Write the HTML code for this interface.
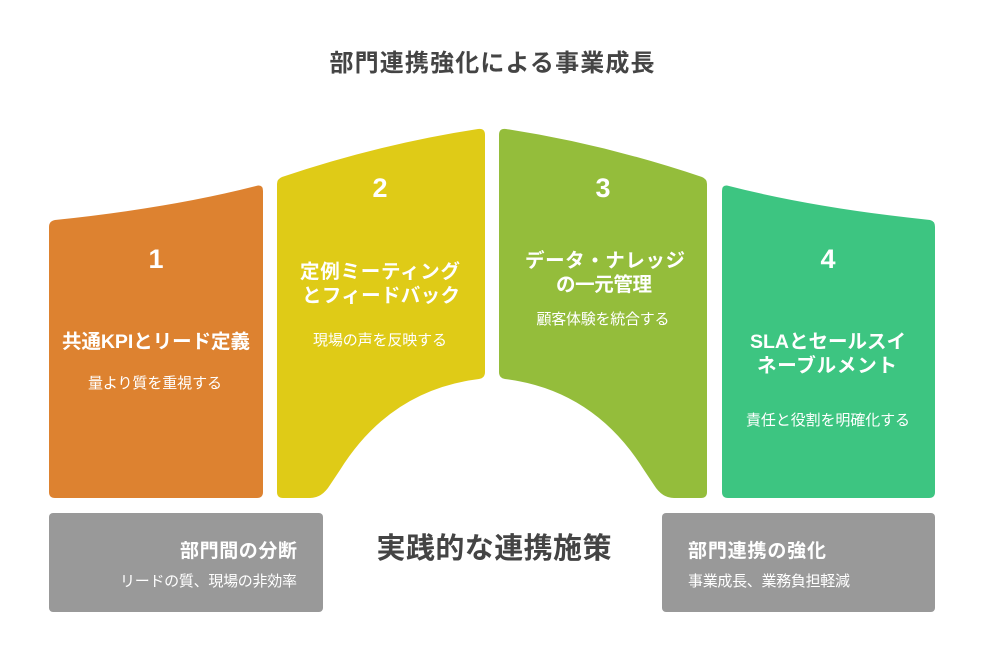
<!DOCTYPE html>
<html><head><meta charset="utf-8"><style>
html,body{margin:0;padding:0;background:#fff;}
svg text{font-family:"Liberation Sans","Noto Sans CJK JP",sans-serif;}
</style></head><body>
<svg width="984" height="660" viewBox="0 0 984 660" xmlns="http://www.w3.org/2000/svg">
<rect width="984" height="660" fill="#fff"/>
<text x="492" y="71" text-anchor="middle" font-size="24" font-weight="bold" fill="#444" textLength="325">部門連携強化による事業成長</text>

<path d="M49,227 Q49,221 55,220 Q170,208 256,186 Q263,184 263,191 L263,492 Q263,498 257,498 L55,498 Q49,498 49,492 Z" fill="#DD8230"/>
<path d="M277,184 Q277,179 282,177 Q380,144 478,129 Q485,128 485,135 L485,372 Q485,378 479,379 Q390,390 340,470 L330,485 Q322,498 310,498 L283,498 Q277,498 277,492 Z" fill="#DFCB17"/>
<path d="M499,135 Q499,128 506,129 Q604,144 702,177 Q707,179 707,184 L707,492 Q707,498 701,498 L674,498 Q662,498 654,485 L644,470 Q594,390 505,379 Q499,378 499,372 Z" fill="#94BD3B"/>
<path d="M722,191 Q722,184 729,186 Q815,208 930,220 Q935,221 935,227 L935,492 Q935,498 929,498 L728,498 Q722,498 722,492 Z" fill="#3DC581"/>

<g fill="#fff" text-anchor="middle">
<text x="156" y="268" font-size="27" font-weight="bold">1</text>
<text x="156" y="348" font-size="19.5" font-weight="bold" textLength="188">共通KPIとリード定義</text>
<text x="155" y="388" font-size="15" textLength="134">量より質を重視する</text>

<text x="380" y="197" font-size="27" font-weight="bold">2</text>
<text x="380" y="278" font-size="19.5" font-weight="bold" textLength="160">定例ミーティング</text>
<text x="381" y="302" font-size="19.5" font-weight="bold" textLength="158">とフィードバック</text>
<text x="380" y="345" font-size="15" textLength="134">現場の声を反映する</text>

<text x="603" y="197" font-size="27" font-weight="bold">3</text>
<text x="605" y="267" font-size="19.5" font-weight="bold" textLength="160">データ・ナレッジ</text>
<text x="604" y="291" font-size="19.5" font-weight="bold" textLength="96">の一元管理</text>
<text x="603" y="324" font-size="15" textLength="133">顧客体験を統合する</text>

<text x="828" y="268" font-size="27" font-weight="bold">4</text>
<text x="828" y="348" font-size="19.5" font-weight="bold" textLength="156">SLAとセールスイ</text>
<text x="827" y="372" font-size="19.5" font-weight="bold" textLength="140">ネーブルメント</text>
<text x="828" y="425" font-size="15" textLength="164">責任と役割を明確化する</text>
</g>

<rect x="49" y="513" width="274" height="99" rx="4" fill="#999"/>
<text x="297" y="557" text-anchor="end" font-size="19" font-weight="bold" fill="#fff" textLength="117">部門間の分断</text>
<text x="297" y="586" text-anchor="end" font-size="15" fill="#fff" textLength="177">リードの質、現場の非効率</text>

<text x="494" y="558" text-anchor="middle" font-size="29" font-weight="bold" fill="#444" textLength="235">実践的な連携施策</text>

<rect x="662" y="513" width="273" height="99" rx="4" fill="#999"/>
<text x="688" y="557" font-size="19" font-weight="bold" fill="#fff" textLength="138">部門連携の強化</text>
<text x="688" y="586" font-size="15" fill="#fff" textLength="162">事業成長、業務負担軽減</text>
</svg>
</body></html>
